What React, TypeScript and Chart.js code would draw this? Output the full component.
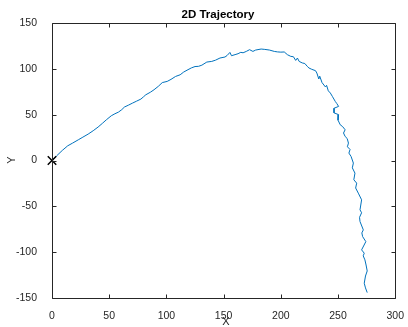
import React, { useEffect, useRef } from "react";
import { Chart, registerables } from "chart.js";

Chart.register(...registerables);

const chartTitle = "2D Trajectory";
const xLabel = "X";
const yLabel = "Y";

const xTicks = [0, 50, 100, 150, 200, 250, 300];
const yTicks = [-150, -100, -50, 0, 50, 100, 150];

const trajX = [
  0, 4, 9, 13.7, 18, 23, 27, 31.6, 36, 40.3, 44, 47.5, 51.8, 55, 58.1, 61, 63.3, 67, 70.5, 74,
  77.7, 80, 82, 86, 89.2, 93, 96.4, 100.7, 104, 108, 112, 115.1, 118, 121.8, 125, 128, 131, 135.3,
  139.6, 143, 146.8, 151.2, 153, 155.5, 156.9, 160, 162.6, 165, 167, 169.8, 172.7, 175.6, 178,
  182.8, 186, 190, 194.3, 197, 200, 203, 205.8, 208.7, 211, 213, 214.5, 216, 218.8, 221, 223.1,
  224.6, 227, 230.3, 231.5, 233.2, 234, 236, 239, 240, 241.5, 243.3, 245, 247.6, 249, 250.5, 246.5,
  246.5, 250.5, 250, 251.9, 254, 256.2, 254.8, 256.2, 258, 259.1, 258.2, 260.5, 259.5, 261.4,
  263.4, 262.5, 264.8, 263.8, 266.3, 265.4, 267.7, 270.6, 269.2, 270.6, 268.8, 269.2, 272.1, 270.8,
  271.5, 274.3, 270.6, 272.9, 272, 273.5, 274.5, 275.5, 274, 272.9, 274, 275.5
];

const trajY = [
  0, 5, 11, 16, 19, 22.6, 25.5, 28.8, 32.5, 36.5, 40.5, 44.4, 48.8, 51, 52.8, 55.5, 58.3, 60.5,
  62.7, 64.8, 67, 69.5, 71.7, 74.5, 77.2, 81, 85, 86.3, 88.5, 91.7, 93.5, 96.5, 98.5, 101, 102.5,
  102.7, 104, 107.4, 108.1, 109.5, 111.8, 112.9, 114.5, 117.9, 114.3, 115.5, 116.5, 118, 117.5, 119,
  120.9, 119, 120.5, 121.6, 121.2, 120.5, 119, 118.5, 118.2, 118.4, 115.4, 113.6, 113.2, 109.2,
  111.8, 108.1, 106.4, 105.8, 102.7, 100.9, 99.5, 98, 95.4, 88.9, 92, 85, 80.2, 82, 76, 73.6, 70,
  64.4, 62, 59, 57, 52, 50, 44, 39, 37, 33.5, 30, 26.2, 24, 19, 15, 12, 8.1, 4.4, -2.8, -8, -13.8,
  -21, -24.7, -30, -35.6, -42.9, -53.8, -57, -62, -66.6, -75.7, -79, -83, -88.5, -97.5, -101.1,
  -104, -108.4, -114, -120.5, -126, -133.9, -139, -144.1
];

const startX = [0];
const startY = [0];

const FONT = '"Liberation Sans", Arial, Helvetica, sans-serif';
const TEXT = "#262626";

export default function App() {
  const ref = useRef<HTMLCanvasElement | null>(null);

  useEffect(() => {
    const canvas = ref.current;
    if (!canvas) return;

    const framePlugin = {
      id: "matlabFrame",
      afterDraw(chart: any) {
        const { ctx, chartArea } = chart;
        const { left, right, top, bottom } = chartArea;
        const xs = chart.scales.x;
        const ys = chart.scales.y;
        ctx.save();
        ctx.strokeStyle = TEXT;
        ctx.lineWidth = 1;
        const L = Math.round(left) + 0.5;
        const R = Math.round(right) + 0.5;
        const T = Math.round(top) + 0.5;
        const B = Math.round(bottom) + 0.5;
        ctx.beginPath();
        ctx.rect(L, T, R - L, B - T);
        ctx.stroke();
        const tl = 4;
        ctx.beginPath();
        xTicks.forEach((v) => {
          const px = Math.round(xs.getPixelForValue(v)) + 0.5;
          ctx.moveTo(px, B);
          ctx.lineTo(px, B - tl);
          ctx.moveTo(px, T);
          ctx.lineTo(px, T + tl);
        });
        yTicks.forEach((v) => {
          const py = Math.round(ys.getPixelForValue(v)) + 0.5;
          ctx.moveTo(L, py);
          ctx.lineTo(L + tl, py);
          ctx.moveTo(R, py);
          ctx.lineTo(R - tl, py);
        });
        ctx.stroke();

        ctx.fillStyle = "#000";
        ctx.font = `bold 11.5px ${FONT}`;
        ctx.textAlign = "center";
        ctx.textBaseline = "middle";
        ctx.fillText(chartTitle, 218, 14.5);

        ctx.fillStyle = TEXT;
        ctx.font = `11px ${FONT}`;
        ctx.fillText(xLabel, 226, 322);
        ctx.translate(12, 160);
        ctx.rotate(-Math.PI / 2);
        ctx.fillText(yLabel, 0, 0);
        ctx.restore();
      },
    };

    const chart = new Chart(canvas, {
      type: "scatter",
      data: {
        datasets: [
          {
            data: startX.map((x, i) => ({ x, y: startY[i] })),
            pointStyle: "crossRot",
            pointRadius: 6,
            borderColor: "#000",
            backgroundColor: "#000",
            borderWidth: 1.5,
            showLine: false,
            clip: false as any,
          },
          {
            data: trajX.map((x, i) => ({ x, y: trajY[i] })),
            showLine: true,
            borderColor: "#0072BD",
            backgroundColor: "#0072BD",
            borderWidth: 1,
            pointRadius: 0,
            tension: 0,
          },
        ],
      },
      plugins: [framePlugin],
      options: {
        animation: false,
        responsive: false,
        devicePixelRatio: 1,
        layout: { padding: { left: 0, right: 8.5, top: 23, bottom: 0 } },
        plugins: {
          legend: { display: false },
          title: { display: false },
          tooltip: { enabled: false },
        },
        scales: {
          x: {
            type: "linear",
            min: 0,
            max: 300,
            afterBuildTicks: (s: any) => {
              s.ticks = xTicks.map((v) => ({ value: v }));
            },
            afterFit: (s: any) => {
              s.height = 29;
            },
            grid: { display: false },
            border: { display: false },
            ticks: {
              color: TEXT,
              font: { family: FONT, size: 10.5 },
              padding: 4,
              maxRotation: 0,
              autoSkip: false,
            },
          },
          y: {
            type: "linear",
            min: -150,
            max: 150,
            afterBuildTicks: (s: any) => {
              s.ticks = yTicks.map((v) => ({ value: v }));
            },
            afterFit: (s: any) => {
              s.width = 52;
            },
            grid: { display: false },
            border: { display: false },
            ticks: {
              color: TEXT,
              font: { family: FONT, size: 10.5 },
              padding: 7,
              autoSkip: false,
            },
          },
        },
      },
    } as any);

    return () => chart.destroy();
  }, []);

  return (
    <div style={{ position: "fixed", left: 0, top: 0, width: 408, height: 327, background: "#fff" }}>
      <canvas ref={ref} width={408} height={327} style={{ width: 408, height: 327, display: "block" }} />
    </div>
  );
}
